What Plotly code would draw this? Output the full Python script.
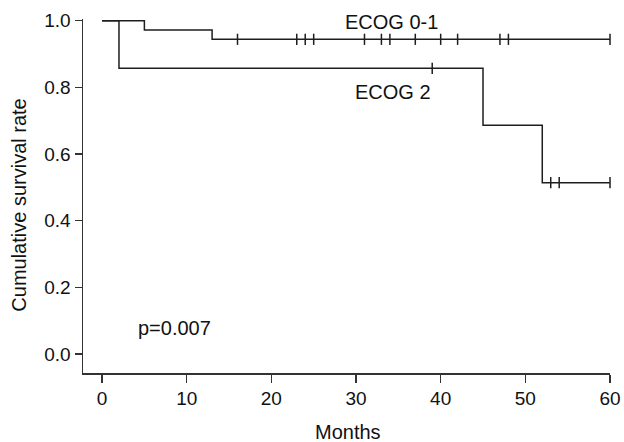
import numpy as np
import plotly.graph_objects as go

# ECOG 0-1 group
ecog01_event_times = [0, 5, 13]
ecog01_survival = [1.0, 0.972, 0.944]
ecog01_censor_times = [16, 23, 24, 25, 31, 33, 34, 37, 40, 42, 47, 48, 60]

# ECOG 2 group
ecog2_event_times = [0, 2, 45, 52]
ecog2_survival = [1.0, 0.857, 0.686, 0.514]
ecog2_censor_times = [39, 53, 54, 60]

end_time = 60
x_ticks = [0, 10, 20, 30, 40, 50, 60]
y_ticks = [0.0, 0.2, 0.4, 0.6, 0.8, 1.0]

line_color = "#1e1e1e"
font_family = "Liberation Sans, Arial, sans-serif"


def step_value(times, surv, t):
    idx = np.searchsorted(np.array(times), t, side="right") - 1
    return surv[idx]


fig = go.Figure()
for times, surv, cens in [
    (ecog01_event_times, ecog01_survival, ecog01_censor_times),
    (ecog2_event_times, ecog2_survival, ecog2_censor_times),
]:
    xs = list(times) + [end_time]
    ys = list(surv) + [surv[-1]]
    fig.add_trace(go.Scatter(
        x=xs, y=ys, mode="lines", line=dict(color=line_color, width=1.5, shape="hv"),
        showlegend=False, hoverinfo="skip"))
    fig.add_trace(go.Scatter(
        x=cens, y=[step_value(times, surv, t) for t in cens], mode="markers",
        marker=dict(symbol="line-ns", size=8, line=dict(color=line_color, width=1.5)),
        showlegend=False, cliponaxis=False, hoverinfo="skip"))

fig.update_layout(
    width=624, height=442,
    margin=dict(l=83, r=14, t=19, b=69),
    paper_bgcolor="white", plot_bgcolor="white",
    font=dict(family=font_family, size=20, color="#111"),
    xaxis=dict(range=[-2.25, 60], tickvals=x_ticks, showline=True, linecolor="#333",
               linewidth=1.5, ticks="outside", ticklen=8, tickwidth=1.5, tickcolor="#333",
               showgrid=False, zeroline=False, tickfont=dict(size=19), automargin=False),
    yaxis=dict(range=[-0.057, 1.005], tickvals=y_ticks, tickformat=".1f", showline=True,
               linecolor="#333", linewidth=1.5, ticks="outside", ticklen=7, tickwidth=1.5,
               tickcolor="#333", showgrid=False, zeroline=False, tickfont=dict(size=19),
               automargin=False),
    annotations=[
        dict(x=34.2, y=0.995, xref="x", yref="y", text="ECOG 0-1", showarrow=False,
             xanchor="center", yanchor="middle", font=dict(size=20)),
        dict(x=34.4, y=0.786, xref="x", yref="y", text="ECOG 2", showarrow=False,
             xanchor="center", yanchor="middle", font=dict(size=20)),
        dict(x=8.6, y=0.077, xref="x", yref="y", text="p=0.007", showarrow=False,
             xanchor="center", yanchor="middle", font=dict(size=20)),
        dict(x=0, y=0.445, xref="paper", yref="y", text="Cumulative survival rate",
             showarrow=False, textangle=-90, xanchor="center", yanchor="middle",
             xshift=-64, font=dict(size=20)),
        dict(x=29.0, y=0, xref="x", yref="paper", text="Months", showarrow=False,
             xanchor="center", yanchor="middle", yshift=-59, font=dict(size=20)),
    ],
)

fig.write_html(
    "out.html",
    config={"displayModeBar": False, "staticPlot": True},
    post_script="document.body.style.margin='0';document.body.style.overflow='hidden';",
)
